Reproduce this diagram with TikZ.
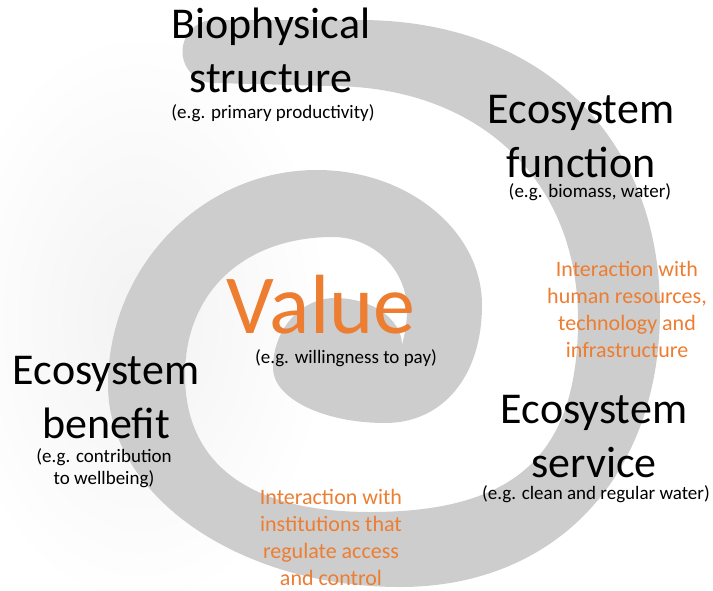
\documentclass[tikz,border=0pt]{standalone}
\usepackage{fontspec}
\setmainfont{Carlito}
\usepackage{xcolor}
\usepackage{tikz}
\usetikzlibrary{positioning}

\begin{document}
\begin{tikzpicture}
    [%%%%%%%%%%%%%%%%%%%%%%%%%%%%%%
        x=1pt, y=-1pt,
        title/.style={align=center, anchor=base, inner sep=0pt, font=\fontsize{44}{54}\selectfont},
        note/.style={align=center, anchor=base, inner sep=0pt, font=\fontsize{19}{21.5}\selectfont},
        link/.style={align=center, anchor=base, inner sep=0pt, text=valorange, font=\fontsize{22}{26.7}\selectfont}
    ]%%%%%%%%%%%%%%%%%%%%%%%%%%%%%%
\definecolor{valorange}{RGB}{237,125,49}
\definecolor{spiralgray}{RGB}{205,205,205}
\useasboundingbox (0,0) rectangle (713,590);

% faint shadow on the left
\shade[inner color=black!5, outer color=white] (140,320) ellipse [x radius=190, y radius=290];

% the spiral band: outer edge inwards, then inner edge back out
\fill[spiralgray] (214,83) .. controls (196.6,83) and (182.5,68.9) .. (182.5,51.5)
    .. controls (182.5,34.1) and (196.6,20) .. (214,20)
    -- (360,20)
    .. controls (540,20) and (660,136) .. (660,310)
    .. controls (660,476) and (556,587) .. (400,587)
    .. controls (239.4,587) and (108,496) .. (108,385)
    .. controls (108,266.8) and (202,170) .. (317,170)
    .. controls (407.8,170) and (482,230.8) .. (482,305)
    .. controls (482,375.8) and (443.2,423) .. (385,423)
    .. controls (323.4,423) and (273,398.3) .. (273,368)
    .. controls (273,329.5) and (300.9,298) .. (335,298)
    .. controls (371.9,298) and (402,319.2) .. (402,345)
    .. controls (405,333) and (407,322) .. (407,310)
    .. controls (407,269.9) and (373.7,237) .. (333,237)
    .. controls (244.2,237) and (185,292.2) .. (185,375)
    .. controls (185,464) and (249.8,512) .. (370,512)
    .. controls (515.6,512) and (578,454.4) .. (578,320)
    .. controls (578,179.6) and (478.8,86) .. (330,86)
    -- cycle;

% stages (base = last line)
\node[title] (bio) at (271,92) {Biophysical\\structure};
\node[note] (bionote) at (273,118) {(e.g. primary productivity)};

\node[title] (func) at (581,177) {Ecosystem\\function};
\node[note] (funcnote) at (590,197) {(e.g. biomass, water)};

\node[title] (serv) at (594,477) {Ecosystem\\service};
\node[note] (servnote) at (596,499) {(e.g. clean and regular water)};

\node[title] (bene) at (106,438) {Ecosystem\\benefit};
\node[note] (benenote) at (104,484) {(e.g. contribution\\to wellbeing)};

\node[anchor=base, inner sep=0pt, text=valorange, font=\fontsize{84}{90}\selectfont] (val) at (321,333) {Value};
\node[note] (valnote) at (346,363) {(e.g. willingness to pay)};

% interactions
\node[link] (human) at (627,357) {Interaction with\\human resources,\\technology and\\infrastructure};
\node[link] (inst) at (331,585) {Interaction with\\institutions that\\regulate access\\and control};

\end{tikzpicture}
\end{document}
